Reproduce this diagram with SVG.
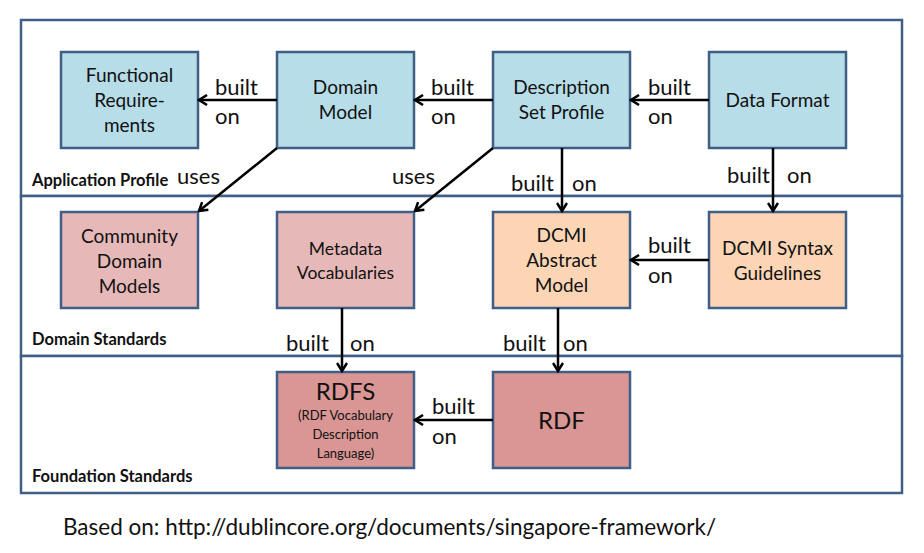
<svg xmlns="http://www.w3.org/2000/svg" width="924" height="553" viewBox="0 0 924 553">
<style>
text{font-family:Lato,"Open Sans","Liberation Sans",sans-serif;fill:#111}
.band{fill:#fff;stroke:#3f5f86;stroke-width:2.5}
.node rect{stroke:#3f5f86;stroke-width:2.5}
.blue{fill:#b7dde8}
.pink{fill:#e6b9b8}
.peach{fill:#fcd5b5}
.red{fill:#d99694}
.nt{font-size:19px;text-anchor:middle}
.lbl{font-size:22px}
.band-t{font-size:16.5px;font-weight:bold}
.conn line{stroke:#000;stroke-width:2.5;marker-end:url(#ah)}
</style>
<defs>
<marker id="ah" viewBox="0 0 12 12" refX="10" refY="6" markerWidth="12" markerHeight="12" markerUnits="userSpaceOnUse" orient="auto">
<path d="M2,1 L10,6 L2,11" fill="none" stroke="#000" stroke-width="2.5"/>
</marker>
</defs>
<rect width="924" height="553" fill="#fff"/>
<g id="bands">
<rect class="band" x="21" y="20" width="881" height="176"/>
<rect class="band" x="21" y="196" width="881" height="160"/>
<rect class="band" x="21" y="356" width="881" height="137"/>
<text class="band-t" x="32" y="186">Application Profile</text>
<text class="band-t" x="32" y="345">Domain Standards</text>
<text class="band-t" x="32" y="482">Foundation Standards</text>
</g>
<g id="functional-requirements" class="node"><rect class="blue" x="61" y="52" width="137" height="96"/>
<text class="nt" x="129.5" y="82">Functional</text><text class="nt" x="129.5" y="107">Require-</text><text class="nt" x="129.5" y="132">ments</text></g>
<g id="domain-model" class="node"><rect class="blue" x="277" y="52" width="137" height="96"/>
<text class="nt" x="345.5" y="94">Domain</text><text class="nt" x="345.5" y="119">Model</text></g>
<g id="description-set-profile" class="node"><rect class="blue" x="493" y="52" width="137" height="96"/>
<text class="nt" x="561.5" y="94">Description</text><text class="nt" x="561.5" y="119">Set Profile</text></g>
<g id="data-format" class="node"><rect class="blue" x="709" y="52" width="137" height="96"/>
<text class="nt" x="777.5" y="107">Data Format</text></g>
<g id="community-domain-models" class="node"><rect class="pink" x="61" y="212" width="137" height="96"/>
<text class="nt" x="129.5" y="243">Community</text><text class="nt" x="129.5" y="268">Domain</text><text class="nt" x="129.5" y="293">Models</text></g>
<g id="metadata-vocabularies" class="node"><rect class="pink" x="277" y="212" width="137" height="96"/>
<text class="nt" x="345.5" y="255" style="font-size:17.5px">Metadata</text><text class="nt" x="345.5" y="279" style="font-size:17.5px">Vocabularies</text></g>
<g id="dcmi-abstract-model" class="node"><rect class="peach" x="493" y="212" width="137" height="96"/>
<text class="nt" x="561.5" y="242">DCMI</text><text class="nt" x="561.5" y="267">Abstract</text><text class="nt" x="561.5" y="292">Model</text></g>
<g id="dcmi-syntax-guidelines" class="node"><rect class="peach" x="709" y="212" width="137" height="96"/>
<text class="nt" x="777.5" y="255">DCMI Syntax</text><text class="nt" x="777.5" y="280">Guidelines</text></g>
<g id="rdfs" class="node"><rect class="red" x="277" y="372" width="137" height="96"/>
<text class="nt" x="345.5" y="400" style="font-size:24px">RDFS</text>
<text class="nt" x="345.5" y="420" style="font-size:13px">(RDF Vocabulary</text><text class="nt" x="345.5" y="439" style="font-size:13px">Description</text><text class="nt" x="345.5" y="458" style="font-size:13px">Language)</text></g>
<g id="rdf" class="node"><rect class="red" x="493" y="372" width="137" height="96"/>
<text class="nt" x="561.5" y="429" style="font-size:24px">RDF</text></g>
<g id="connectors" class="conn">
<line x1="277" y1="100" x2="199" y2="100"/>
<line x1="493" y1="100" x2="415" y2="100"/>
<line x1="709" y1="100" x2="631" y2="100"/>
<line x1="277" y1="148" x2="199" y2="211"/>
<line x1="493" y1="148" x2="415" y2="211"/>
<line x1="562" y1="148" x2="562" y2="211"/>
<line x1="773" y1="148" x2="773" y2="211"/>
<line x1="709" y1="260" x2="631" y2="260"/>
<line x1="342" y1="308" x2="342" y2="371"/>
<line x1="558" y1="308" x2="558" y2="371"/>
<line x1="493" y1="420" x2="415" y2="420"/>
</g>
<g id="connector-labels">
<text class="lbl" x="215" y="95">built</text><text class="lbl" x="215" y="124">on</text>
<text class="lbl" x="431" y="95">built</text><text class="lbl" x="431" y="124">on</text>
<text class="lbl" x="648" y="95">built</text><text class="lbl" x="648" y="124">on</text>
<text class="lbl" x="177" y="184">uses</text>
<text class="lbl" x="392" y="184">uses</text>
<text class="lbl" x="511" y="191">built</text><text class="lbl" x="572" y="191">on</text>
<text class="lbl" x="727" y="183">built</text><text class="lbl" x="787" y="183">on</text>
<text class="lbl" x="648" y="253">built</text><text class="lbl" x="648" y="283">on</text>
<text class="lbl" x="286" y="351">built</text><text class="lbl" x="350" y="351">on</text>
<text class="lbl" x="503" y="351">built</text><text class="lbl" x="563" y="351">on</text>
<text class="lbl" x="432" y="414">built</text><text class="lbl" x="432" y="444">on</text>
</g>
<text x="63" y="535" style="font-size:22.5px">Based on: http://dublincore.org/documents/singapore-framework/</text>
</svg>
